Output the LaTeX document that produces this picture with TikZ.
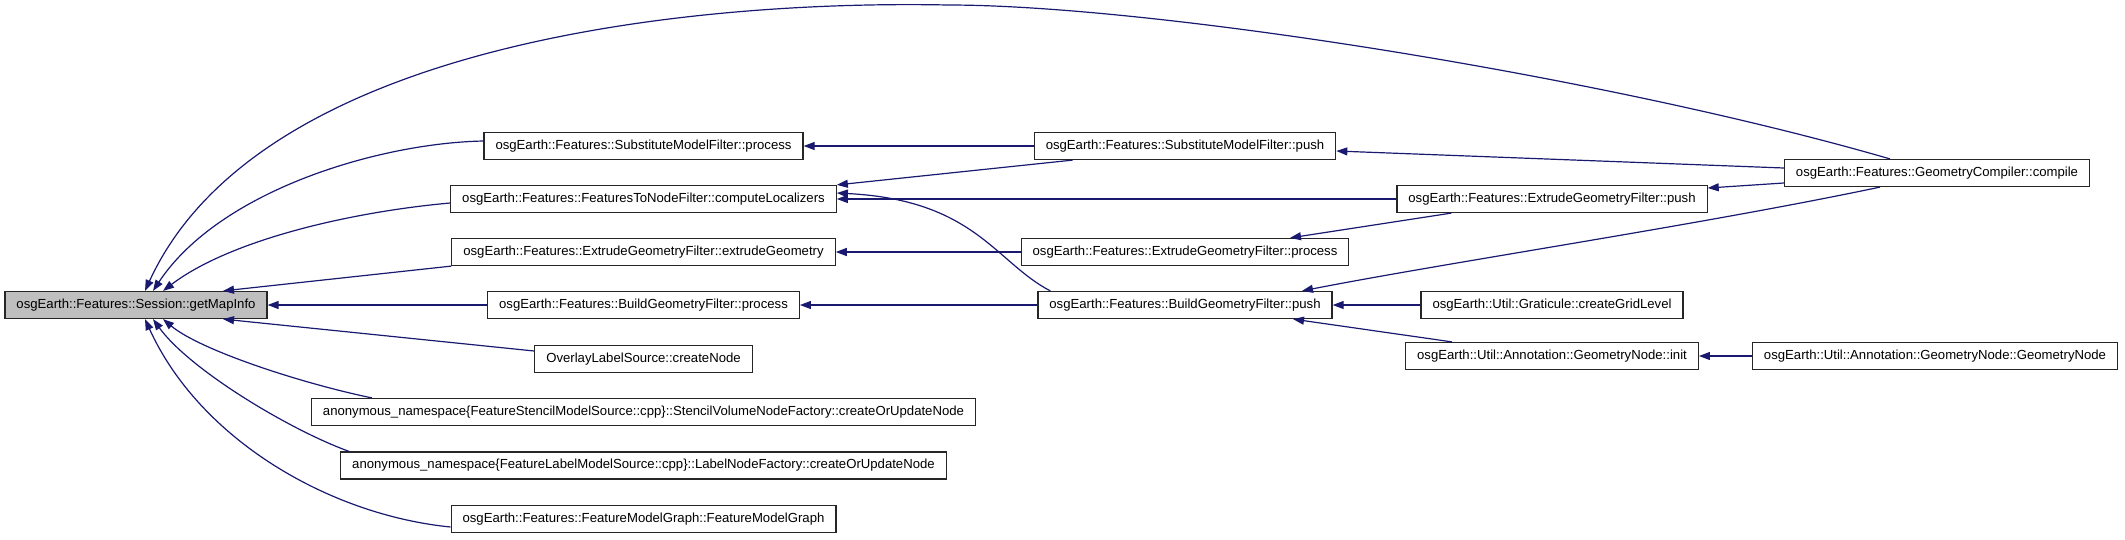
\documentclass[tikz,border=0pt]{standalone}
\usepackage{fontspec}
\setmainfont{Liberation Sans}
\usetikzlibrary{arrows.meta}
\definecolor{edgeblue}{RGB}{25,25,112}

\begin{document}
\begin{tikzpicture}[
        x=1pt, y=-1pt, font=\fontsize{13.15}{15}\selectfont,
        box/.style={draw=black!85, line width=1.2pt, fill=white, inner xsep=11.5pt, inner ysep=0pt, minimum height=27pt},
        arr/.style={->, >={Triangle[length=11pt, width=8pt]}, line width=1.2pt, draw=edgeblue}
    ]
        \useasboundingbox (0,0) rectangle (2125,539);

        \node[box, fill=black!25] (getmap) at (136,305) {osgEarth::Features::Session::getMapInfo};

        \node[box] (smfproc)  at (643.5,146) {osgEarth::Features::SubstituteModelFilter::process};
        \node[box] (ftn)      at (643.5,199) {osgEarth::Features::FeaturesToNodeFilter::computeLocalizers};
        \node[box] (egfextr)  at (643.5,252) {osgEarth::Features::ExtrudeGeometryFilter::extrudeGeometry};
        \node[box] (bgfproc)  at (643.5,305) {osgEarth::Features::BuildGeometryFilter::process};
        \node[box] (overlay)  at (643.5,359) {OverlayLabelSource::createNode};
        \node[box] (stencil)  at (643.5,412) {anonymous\_namespace\{FeatureStencilModelSource::cpp\}::StencilVolumeNodeFactory::createOrUpdateNode};
        \node[box] (label)    at (643.5,465.5) {anonymous\_namespace\{FeatureLabelModelSource::cpp\}::LabelNodeFactory::createOrUpdateNode};
        \node[box] (fmg)      at (643.5,519) {osgEarth::Features::FeatureModelGraph::FeatureModelGraph};

        \node[box] (smfpush)  at (1185,146) {osgEarth::Features::SubstituteModelFilter::push};
        \node[box] (egfproc)  at (1185,252) {osgEarth::Features::ExtrudeGeometryFilter::process};
        \node[box] (bgfpush)  at (1185,305) {osgEarth::Features::BuildGeometryFilter::push};

        \node[box] (egfpush)  at (1552,199) {osgEarth::Features::ExtrudeGeometryFilter::push};
        \node[box] (grat)     at (1552,305) {osgEarth::Util::Graticule::createGridLevel};
        \node[box] (geoinit)  at (1552,356) {osgEarth::Util::Annotation::GeometryNode::init};

        \node[box] (compile)  at (1937,173) {osgEarth::Features::GeometryCompiler::compile};
        \node[box] (geonode)  at (1935,356) {osgEarth::Util::Annotation::GeometryNode::GeometryNode};

        % callers of getMapInfo
        \draw[arr] ([xshift=-47pt]compile.north) .. controls (1600,75) and (1150,5) .. (948,5)
                   .. controls (700,0) and (260,40) .. ([xshift=9pt]getmap.north);
        \draw[arr] ([yshift=5pt]smfproc.west) .. controls (380,143) and (220,190) .. ([xshift=17pt]getmap.north);
        \draw[arr] ([yshift=-4pt]ftn.west) .. controls (350,212) and (230,240) .. ([xshift=27pt]getmap.north);
        \draw[arr] (egfextr.south west) -- ([xshift=87pt]getmap.north);
        \draw[arr] (bgfproc) -- (getmap);
        \draw[arr] ([yshift=8pt]overlay.west) -- ([xshift=87pt]getmap.south);
        \draw[arr] ([xshift=61pt]stencil.north west) .. controls (300,383) and (200,350) .. ([xshift=27pt]getmap.south);
        \draw[arr] ([xshift=9pt]label.north west) .. controls (290,430) and (190,370) .. ([xshift=17pt]getmap.south);
        \draw[arr] ([yshift=-8pt]fmg.west) .. controls (330,515) and (200,440) .. ([xshift=9pt]getmap.south);

        % second level
        \draw[arr] (smfpush) -- (smfproc);
        \draw[arr] ([xshift=39pt]smfpush.south west) -- (ftn.north east);
        \draw[arr] (egfpush) -- (ftn);
        \draw[arr] ([xshift=13pt]bgfpush.north west) .. controls (995,262) and (975,200) .. ([yshift=6pt]ftn.east);
        \draw[arr] (egfproc) -- (egfextr);
        \draw[arr] (bgfpush) -- (bgfproc);

        % third level
        \draw[arr] ([yshift=5pt]compile.west) -- ([yshift=-5pt]smfpush.east);
        \draw[arr] ([yshift=-10pt]compile.west) -- ([yshift=11pt]egfpush.east);
        \draw[arr] ([xshift=-57pt]compile.south) .. controls (1700,225) and (1450,262) .. ([xshift=117pt]bgfpush.north);
        \draw[arr] ([xshift=55pt]egfpush.south west) -- ([xshift=105pt]egfproc.north);
        \draw[arr] (grat) -- (bgfpush);
        \draw[arr] ([xshift=47pt]geoinit.north west) -- ([xshift=108pt]bgfpush.south);
        \draw[arr] (geonode) -- (geoinit);
    \end{tikzpicture}
\end{document}
